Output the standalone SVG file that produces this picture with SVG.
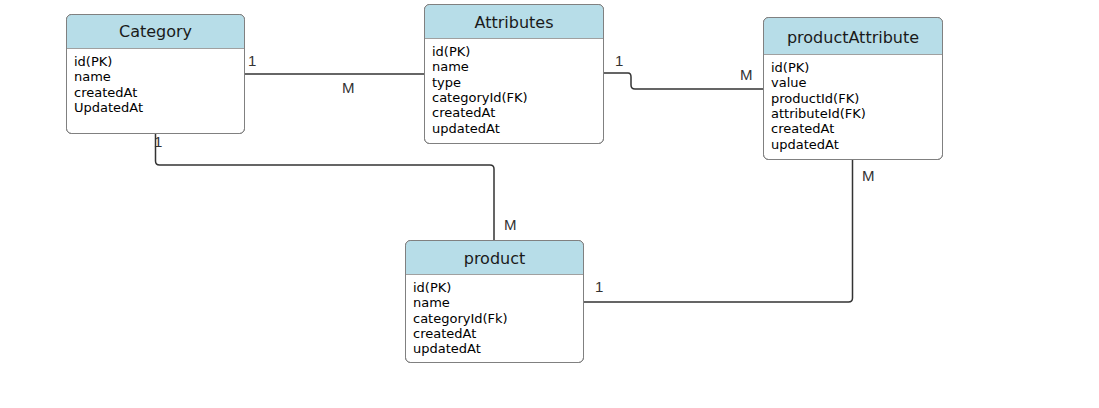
<svg xmlns="http://www.w3.org/2000/svg" width="1099" height="408" viewBox="0 0 1099 408">
<style>
.box{fill:#ffffff;stroke:#808080;stroke-width:1}
.hdr{fill:#b7dde8}
.sep{stroke:#a0a0a0;stroke-width:1.2}
.title{font-family:"DejaVu Sans",Verdana,sans-serif;font-size:16px;fill:#1a1a1a;text-anchor:middle}
.field{font-family:"DejaVu Sans",Verdana,sans-serif;font-size:13px;fill:#000}
.conn{fill:none;stroke:#333;stroke-width:1.5}
.lbl{font-family:"Liberation Sans",Arial,sans-serif;font-size:15px;fill:#333}
</style>
<rect width="1099" height="408" fill="#ffffff"/>
<g id="connectors">
<path class="conn" d="M244,74 H424"/>
<path class="conn" d="M603,73 H628 Q631,73 631,77 V85 Q631,89 635,89 H763"/>
<path class="conn" d="M155.5,133 V161 Q155.5,165 159.5,165 H490 Q494,165 494,169 V240"/>
<path class="conn" d="M583,302 H848.5 Q852.5,302 852.5,298 V159"/>
<text class="lbl" x="248" y="65.5">1</text>
<text class="lbl" x="342" y="93">M</text>
<text class="lbl" x="615" y="65.5">1</text>
<text class="lbl" x="740" y="79.5">M</text>
<text class="lbl" x="154" y="147">1</text>
<text class="lbl" x="504" y="230">M</text>
<text class="lbl" x="595" y="291.5">1</text>
<text class="lbl" x="862" y="180.5">M</text>
</g>
<g id="category">
<rect class="box" x="66.5" y="14.5" width="178" height="119" rx="5"/>
<path class="hdr" d="M71.5,15 H239.5 Q244,15 244,19.5 V48 H67 V19.5 Q67,15 71.5,15 Z"/>
<line class="sep" x1="67" y1="48.5" x2="244" y2="48.5"/>
<rect x="66.5" y="14.5" width="178" height="119" rx="5" fill="none" stroke="#808080"/>
<text class="title" x="155.5" y="37">Category</text>
<text class="field" x="74" y="66">id(PK)</text>
<text class="field" x="74" y="81.3">name</text>
<text class="field" x="74" y="96.6">createdAt</text>
<text class="field" x="74" y="111.9">UpdatedAt</text>
</g>
<g id="attributes">
<rect class="box" x="424.5" y="4.5" width="179" height="139" rx="5"/>
<path class="hdr" d="M429.5,5 H598.5 Q603,5 603,9.5 V38 H425 V9.5 Q425,5 429.5,5 Z"/>
<line class="sep" x1="425" y1="38.5" x2="603" y2="38.5"/>
<rect x="424.5" y="4.5" width="179" height="139" rx="5" fill="none" stroke="#808080"/>
<text class="title" x="514" y="27.5">Attributes</text>
<text class="field" x="432" y="56">id(PK)</text>
<text class="field" x="432" y="71.3">name</text>
<text class="field" x="432" y="86.6">type</text>
<text class="field" x="432" y="101.9">categoryId(FK)</text>
<text class="field" x="432" y="117.2">createdAt</text>
<text class="field" x="432" y="132.5">updatedAt</text>
</g>
<g id="productAttribute">
<rect class="box" x="763.5" y="17.5" width="179" height="142" rx="5"/>
<path class="hdr" d="M768.5,18 H937.5 Q942,18 942,22.5 V54 H764 V22.5 Q764,18 768.5,18 Z"/>
<line class="sep" x1="764" y1="54.5" x2="942" y2="54.5"/>
<rect x="763.5" y="17.5" width="179" height="142" rx="5" fill="none" stroke="#808080"/>
<text class="title" x="853" y="43">productAttribute</text>
<text class="field" x="771" y="72">id(PK)</text>
<text class="field" x="771" y="87.3">value</text>
<text class="field" x="771" y="102.6">productId(FK)</text>
<text class="field" x="771" y="117.9">attributeId(FK)</text>
<text class="field" x="771" y="133.2">createdAt</text>
<text class="field" x="771" y="148.5">updatedAt</text>
</g>
<g id="product">
<rect class="box" x="405.5" y="240.5" width="178" height="122" rx="5"/>
<path class="hdr" d="M410.5,241 H578.5 Q583,241 583,245.5 V274 H406 V245.5 Q406,241 410.5,241 Z"/>
<line class="sep" x1="406" y1="274.5" x2="583" y2="274.5"/>
<rect x="405.5" y="240.5" width="178" height="122" rx="5" fill="none" stroke="#808080"/>
<text class="title" x="494.5" y="263.5">product</text>
<text class="field" x="413" y="292">id(PK)</text>
<text class="field" x="413" y="307.3">name</text>
<text class="field" x="413" y="322.6">categoryId(Fk)</text>
<text class="field" x="413" y="337.9">createdAt</text>
<text class="field" x="413" y="353.2">updatedAt</text>
</g>
</svg>
